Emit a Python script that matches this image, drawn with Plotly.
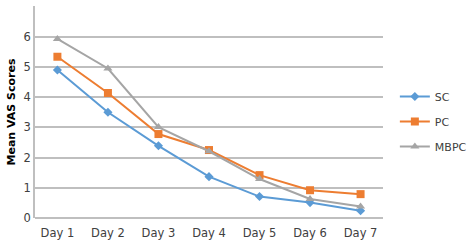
import plotly.graph_objects as go

days = ["Day 1", "Day 2", "Day 3", "Day 4", "Day 5", "Day 6", "Day 7"]
sc = [4.90, 3.50, 2.39, 1.37, 0.71, 0.51, 0.24]
pc = [5.34, 4.14, 2.78, 2.25, 1.42, 0.92, 0.79]
mbpc = [5.93, 4.95, 3.01, 2.21, 1.29, 0.63, 0.38]
y_ticks = [0, 1, 2, 3, 4, 5, 6, 7]

fig = go.Figure()
series = [
    ("SC", sc, "#5B9BD5", "diamond", 7),
    ("PC", pc, "#ED7D31", "square", 8),
    ("MBPC", mbpc, "#A5A5A5", "triangle-up", 8),
]
for name, vals, col, sym, sz in series:
    fig.add_trace(go.Scatter(
        x=days, y=vals, name=name, mode="lines+markers",
        legendgroup=name,
        line=dict(color=col, width=2),
        marker=dict(symbol=sym, size=sz, color=col),
    ))

fig.update_layout(
    width=472, height=243,
    margin=dict(l=35, r=0, t=6, b=25),
    paper_bgcolor="white", plot_bgcolor="white",
    font=dict(family="DejaVu Sans", size=11, color="#404040"),
    showlegend=True,
    legend=dict(x=0.833, y=0.455, xanchor="left", yanchor="middle",
                font=dict(size=11, color="#404040"),
                tracegroupgap=6, itemwidth=30,
                bgcolor="rgba(0,0,0,0)"),
    xaxis=dict(domain=[0, 352 / 437], showgrid=False, showline=False, ticks="",
               ticklabelstandoff=6, tickfont=dict(size=11.5)),
    yaxis=dict(range=[0, 7.02], tickvals=y_ticks, showgrid=True,
               gridcolor="#BFBFBF", gridwidth=1.5, zeroline=True,
               zerolinecolor="#BFBFBF", zerolinewidth=1.5,
               showline=True, linecolor="#BFBFBF", linewidth=1.5,
               ticks="", ticklen=0, tickfont=dict(size=11.5),
               title=dict(text="<b>Mean VAS Scores</b>", font=dict(size=11, color="#000"), standoff=6)),
)

fig.write_html("out.html", config={"displayModeBar": False},
               post_script="document.body.style.margin='0';document.body.style.overflow='hidden';")
